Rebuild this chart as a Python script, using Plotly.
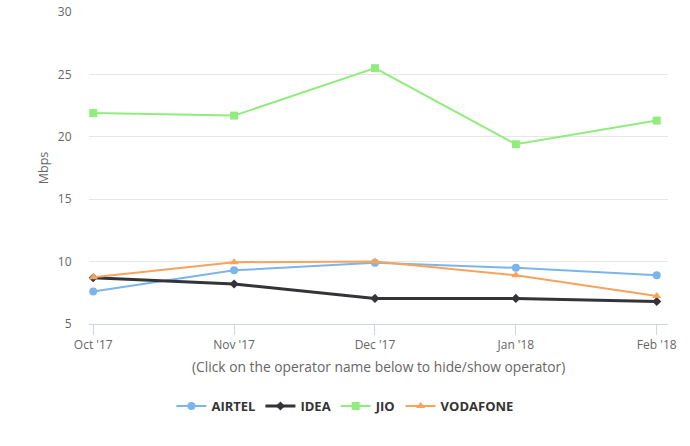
import plotly.graph_objects as go

months = ["Oct '17", "Nov '17", "Dec '17", "Jan '18", "Feb '18"]
airtel = [7.6, 9.3, 9.9, 9.5, 8.9]
idea = [8.7, 8.2, 7.05, 7.05, 6.8]
jio = [21.9, 21.7, 25.5, 19.4, 21.3]
vodafone = [8.75, 9.95, 10.0, 8.9, 7.25]

series = [
    ("AIRTEL", airtel, "#7cb5ec", "circle", 2, 8),
    ("IDEA", idea, "#333338", "diamond", 3, 7),
    ("JIO", jio, "#90ed7d", "square", 2, 8),
    ("VODAFONE", vodafone, "#f7a35c", "triangle-up", 2, 8),
]

fig = go.Figure()
for name, vals, color, sym, lw, ms in series:
    fig.add_trace(go.Scatter(
        x=months, y=vals, name=name, mode="lines+markers",
        line=dict(color=color, width=lw),
        marker=dict(color=color, symbol=sym, size=ms),
    ))

fig.update_layout(
    width=690, height=446,
    margin=dict(l=89, r=22, t=12, b=122, autoexpand=False),
    paper_bgcolor="white", plot_bgcolor="white",
    font=dict(family="Open Sans, sans-serif", color="#666666", size=12),
    showlegend=True,
    legend=dict(orientation="h", x=0.442, xanchor="center", y=-0.263, yanchor="middle",
                font=dict(size=13, color="#333333", family="Open Sans, sans-serif", weight="bold"),
                itemwidth=30, tracegroupgap=0),
    annotations=[dict(text="(Click on the operator name below to hide/show operator)",
                      x=0.5, xref="paper", y=-0.135, yref="paper", showarrow=False,
                      xanchor="center", yanchor="middle",
                      font=dict(size=13.8, color="#666666"))],
)
fig.update_xaxes(type="category", range=[-0.03, 4.08], showgrid=False,
                 showline=True, linecolor="#ccd6eb", linewidth=1,
                 ticks="outside", ticklen=10, tickcolor="#ccd6eb",
                 tickfont=dict(size=12, color="#666666"))
fig.update_yaxes(range=[5, 30], dtick=5, showgrid=True, gridcolor="#e6e6e6",
                 zeroline=False, showline=False,
                 ticks="outside", ticklen=14, tickcolor="rgba(0,0,0,0)",
                 tickfont=dict(size=12, color="#666666"),
                 title=dict(text="Mbps", font=dict(size=12.5, color="#666666"), standoff=6))

fig.write_html("out.html", config={"displayModeBar": False},
               post_script="document.body.style.margin='0';")
